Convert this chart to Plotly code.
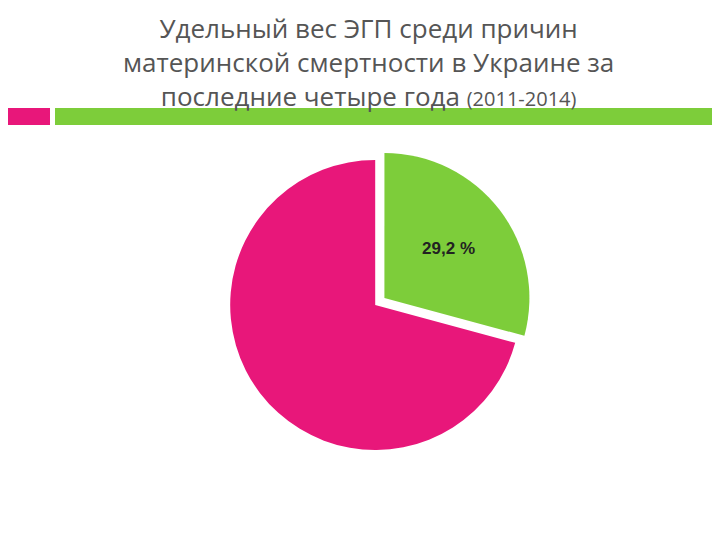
import plotly.graph_objects as go

labels = ["ЭГП", "Другие причины"]
values = [29.2, 70.8]
texts = ["<b>29,2 %</b>", ""]
colors = ["#7dcd3a", "#e8177a"]

fig = go.Figure(go.Pie(
    labels=labels, values=values, text=texts, textinfo="text",
    textposition="inside", insidetextorientation="horizontal",
    marker=dict(colors=colors, line=dict(color="white", width=0)),
    sort=False, direction="clockwise", rotation=0, pull=[0.08, 0],
    textfont=dict(family="Liberation Sans", size=17, color="#222222"),
    domain=dict(x=[0.16, 0.86], y=[0.16, 0.74]), showlegend=False,
    hoverinfo="label+percent"))

fig.update_layout(
    width=720, height=540, margin=dict(l=0, r=0, t=0, b=0),
    paper_bgcolor="white", plot_bgcolor="white",
    shapes=[
        dict(type="rect", xref="paper", yref="paper", x0=0, x1=42/720, y0=1-117/540, y1=1-100/540,
             fillcolor="#e8177a", line_width=0),
        dict(type="rect", xref="paper", yref="paper", x0=47/720, x1=1, y0=1-117/540, y1=1-100/540,
             fillcolor="#7dcd3a", line_width=0),
    ],
    annotations=[dict(
        text="Удельный вес ЭГП среди причин<br>материнской смертности в Украине за<br>последние четыре года <span style='font-size:20px'>(2011-2014)</span>",
        x=0.5, y=1, xref="paper", yref="paper", xanchor="center", yanchor="top",
        showarrow=False, font=dict(family="Open Sans", size=26, color="#555555"))],
)
fig.write_html("out.html")
